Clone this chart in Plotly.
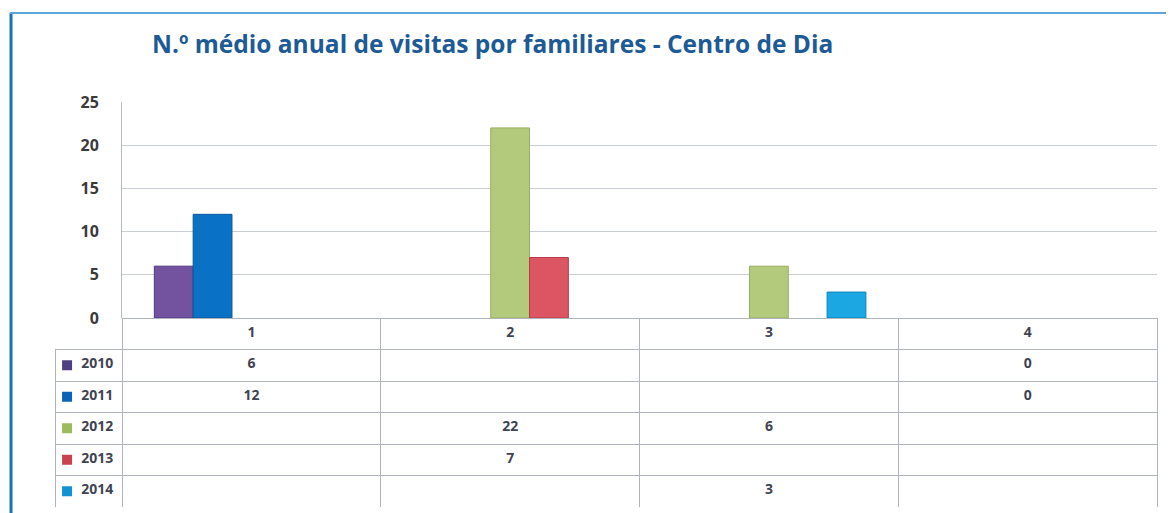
import plotly.graph_objects as go

categories = ["1", "2", "3", "4"]
years = ["2010", "2011", "2012", "2013", "2014"]
v2010 = [6, None, None, 0]
v2011 = [12, None, None, 0]
v2012 = [None, 22, 6, None]
v2013 = [None, 7, None, None]
v2014 = [None, None, 3, None]
series = [v2010, v2011, v2012, v2013, v2014]

bar_colors = ["#7352A0", "#0A72C4", "#B3CA7C", "#DC5562", "#1AA7E2"]
edge_colors = ["#4E3A7C", "#08589E", "#98B060", "#B83A48", "#0C86BE"]
key_colors = ["#4F3F82", "#0B63B5", "#9DBB5E", "#C9424F", "#1292D2"]

# page has an 8px body margin, so the figure is offset by 8px
OFF = 8
W, H = 1174 - OFF, 513 - OFF
plot_l, plot_r, plot_t, plot_b, tab_b, leg_l = 122 - OFF, 1157 - OFF, 102 - OFF, 318 - OFF, 507 - OFF, 55 - OFF
ml, mr, mt, mb = leg_l, W - plot_r, plot_t, H - tab_b
pw, ph = W - ml - mr, H - mt - mb
split = (tab_b - plot_b) / ph
x0_dom = (plot_l - ml) / pw
row_h = (tab_b - plot_b) / 6

font_fam = "'Open Sans', Lato, sans-serif"
txt_col = "#3F4452"
line_col = "#AEB3BC"

fig = go.Figure()
for name, vals, c, e in zip(years, series, bar_colors, edge_colors):
    fig.add_trace(go.Bar(
        x=categories, y=vals, name=name,
        marker=dict(color=c, line=dict(color=e, width=[1 if v else 0 for v in vals])),
        showlegend=False, xaxis="x", yaxis="y",
    ))

# legend keys of the data table
fig.add_trace(go.Scatter(
    x=[0.18] * len(years), y=years, mode="markers",
    marker=dict(symbol="square", size=10, color=key_colors, line=dict(width=0)),
    showlegend=False, xaxis="x2", yaxis="y2", hoverinfo="skip",
))

cols = [["\u00a0" * 5 + y for y in years]]
for ci in range(len(categories)):
    cols.append(["" if s[ci] is None else str(s[ci]) for s in series])

tfont = dict(family=font_fam, size=14, color=txt_col, weight="bold")
fig.add_trace(go.Table(
    domain=dict(x=[0, 1], y=[0, split]),
    columnwidth=[plot_l - leg_l] + [(plot_r - plot_l) / 4] * 4,
    header=dict(
        values=[""] + categories,
        height=row_h,
        align="center",
        fill=dict(color=["rgba(0,0,0,0)"] + ["white"] * 4),
        line=dict(color=["rgba(0,0,0,0)"] + [line_col] * 4, width=1),
        font=tfont,
    ),
    cells=dict(
        values=cols,
        height=row_h,
        align=["left"] + ["center"] * 4,
        fill=dict(color=["rgba(0,0,0,0)"] + ["white"] * 4),
        line=dict(color=line_col, width=1),
        font=tfont,
    ),
))

fig.update_layout(
    width=W, height=H,
    margin=dict(l=ml, r=mr, t=mt, b=mb),
    paper_bgcolor="white", plot_bgcolor="white",
    barmode="group", bargap=0.25, bargroupgap=0,
    title=dict(
        text="N.º médio anual de visitas por familiares - Centro de Dia",
        x=(152 - OFF) / W, xanchor="left", xref="container",
        y=1 - (44 - OFF) / H, yanchor="middle", yref="container",
        font=dict(family=font_fam, size=24.5, color="#1D5A96", weight="bold"),
    ),
    xaxis=dict(domain=[x0_dom, 1], showticklabels=False, showgrid=False,
               zeroline=False, showline=False, ticks="", automargin=False),
    yaxis=dict(domain=[split, 1], range=[0, 25], dtick=5, automargin=False,
               showgrid=True, gridcolor="#C9CDD4", gridwidth=1,
               zeroline=False, showline=True, linecolor="#B5B9C0", linewidth=1,
               ticks="", ticklabelstandoff=19,
               tickfont=dict(family=font_fam, size=16, color="#3A3A3A", weight="bold")),
    xaxis2=dict(domain=[0, x0_dom], range=[0, 1], anchor="y2", visible=False,
                fixedrange=True),
    yaxis2=dict(domain=[0, split], type="category", categoryarray=[" "] + years,
                categoryorder="array", range=[5.5, -0.5], anchor="x2", visible=False,
                fixedrange=True),
    shapes=[
        dict(type="line", xref="paper", yref="paper",
             x0=(11 - OFF - ml) / pw, x1=(11 - OFF - ml) / pw,
             y0=(H - mb - (13 - OFF)) / ph, y1=-mb / ph,
             line=dict(color="#1C74B8", width=3)),
        dict(type="line", xref="paper", yref="paper",
             x0=(10 - OFF - ml) / pw, x1=(W - ml) / pw,
             y0=(H - mb - (13 - OFF)) / ph, y1=(H - mb - (13 - OFF)) / ph,
             line=dict(color="#5EA6DA", width=2)),
    ],
)

fig.write_html("out.html")
